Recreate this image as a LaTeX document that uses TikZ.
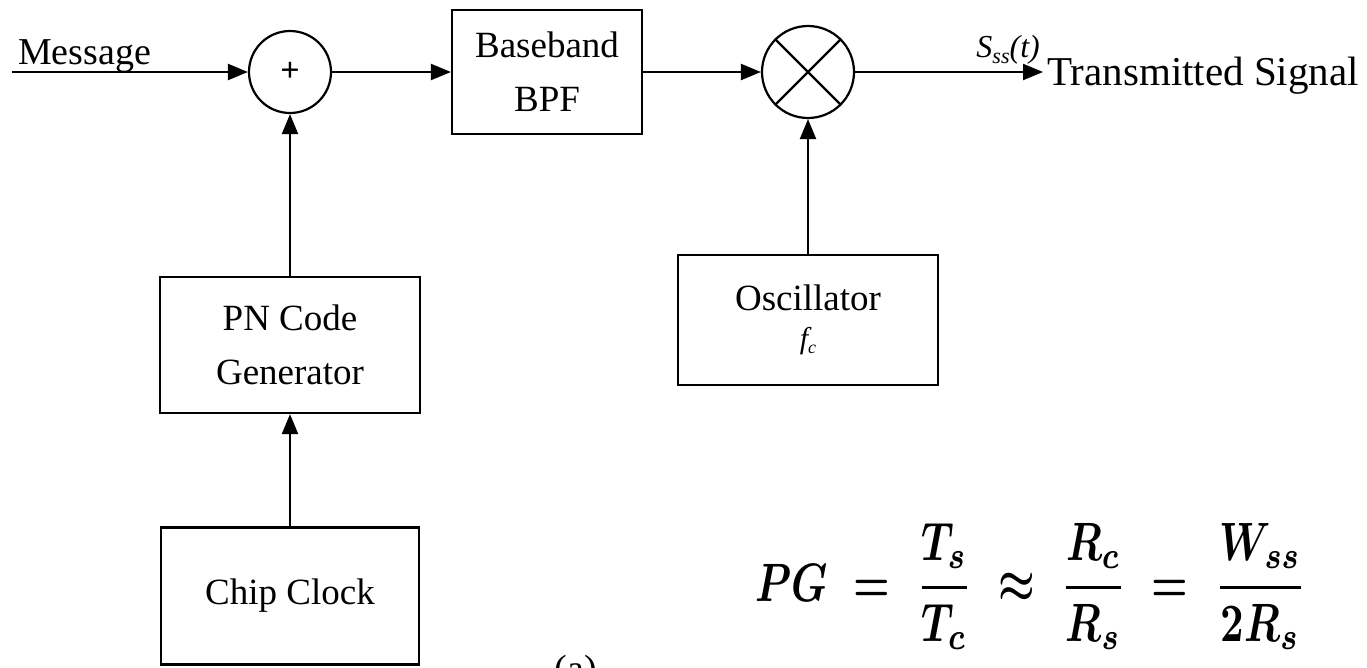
\documentclass[tikz,border=0pt]{standalone}
\usepackage{fontspec}
\setmainfont{Liberation Serif}
\usetikzlibrary{arrows.meta}
\begin{document}
\begin{tikzpicture}[x=1pt,y=-1pt,
  lw/.style={line width=2.2pt},
  blk/.style={draw, line width=2.2pt, inner sep=0pt, align=center, font=\fontsize{37}{54}\selectfont},
  junc/.style={circle, draw, line width=2.2pt, inner sep=0pt},
  arr/.style={line width=2.2pt, -{Triangle[length=20pt,width=16pt]}},
  lbl/.style={inner sep=0pt, font=\fontsize{38}{44}\selectfont}]
\useasboundingbox (0,0) rectangle (1367,667);
% blocks
\node[junc, minimum size=82pt] (sum) at (290,72) {\fontsize{34}{34}\selectfont\textbf{+}};
\node[blk, minimum width=190pt, minimum height=124pt] (bpf) at (547,72) {Baseband\\BPF};
\node[junc, minimum size=92pt] (mul) at (808,72) {};
\draw[lw] (mul.north west) -- (mul.south east) (mul.north east) -- (mul.south west);
\node[blk, minimum width=260pt, minimum height=136pt] (pn) at (290,345) {PN Code\\Generator};
\node[blk, minimum width=258pt, minimum height=137pt] (clk) at (290,596) {Chip Clock};
\node[blk, minimum width=260pt, minimum height=130pt] (osc) at (808,320)
  {Oscillator\\[-16pt]{\fontsize{30}{30}\selectfont\itshape f\raisebox{-5pt}{\fontsize{18}{18}\selectfont c}}};
% labels
\coordinate (msg) at (12,72);
\node[lbl, anchor=base west] (msgtxt) at (18,64) {Message};
\coordinate (txin) at (1043,72);
\node[lbl, anchor=base west, font=\fontsize{41}{48}\selectfont] (tx) at (1047,85) {Transmitted Signal};
\node[lbl, anchor=base east, font=\fontsize{32}{34}\selectfont\itshape] (sst) at (1040,57)
  {S\raisebox{-6pt}{\fontsize{22}{22}\selectfont ss}(t)};
\node[lbl, anchor=base] (cap) at (576,681) {(a)};
\node[anchor=base west, inner sep=0pt] (pg) at (755,601)
  {\scalebox{4.1}[5.4]{\boldmath$\displaystyle PG \;=\; \frac{T_s}{T_c} \;\approx\; \frac{R_c}{R_s} \;=\; \frac{W_{ss}}{2R_s}$}};
% connectors
\draw[arr] (msg) -- (sum);
\draw[arr] (sum) -- (bpf);
\draw[arr] (bpf) -- (mul);
\draw[arr] (mul) -- (txin);
\draw[arr] (pn) -- (sum);
\draw[arr] (clk) -- (pn);
\draw[arr] (osc) -- (mul);
\end{tikzpicture}
\end{document}
